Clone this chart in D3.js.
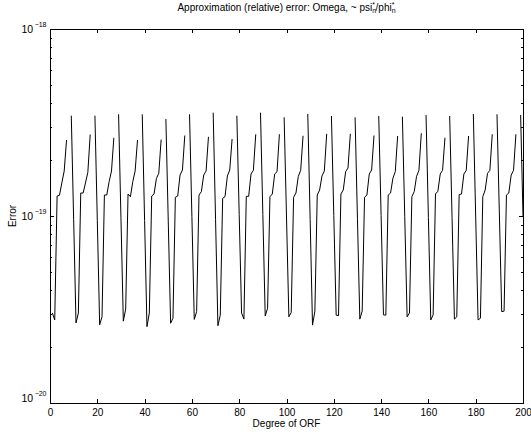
<!DOCTYPE html>
<meta charset="utf-8">
<style>
body { margin: 0; background: white; }
text { font-family: "Liberation Sans", Arial, sans-serif; fill: black; }
.axis line { stroke: black; stroke-width: 1px; shape-rendering: crispEdges; }
.axis path { display: none; }
.frame { fill: none; stroke: black; stroke-width: 1px; shape-rendering: crispEdges; }
.curve { fill: none; stroke: black; stroke-width: 1px; }
</style>
<body>
<script src="https://d3js.org/d3.v7.min.js"></script>
<script>
var width = 531,
    height = 434;

var margin = {top: 29, right: 8, bottom: 31, left: 50};

// error per degree 1..200, in units of 1e-20 (null = zero, skipped on the log axis)
var errUnit = 1e-20;
var degree = d3.range(1, 201);
var error = [
  3.03, 2.78, 12.79, 12.90, 15.02, 17.40, 25.49, null, 34.39, 9.60,
  2.68, 3.03, 13.27, 13.27, 15.02, 17.12, 27.28, null, 34.39, 9.49,
  2.62, 2.89, 12.95, 12.95, 15.26, 17.40, 26.20, null, 34.99, 9.79,
  2.74, 3.18, 13.11, 12.68, 15.26, 17.40, 25.49, null, 34.99, 9.46,
  2.56, 3.03, 12.79, 13.11, 15.90, 16.92, 25.65, null, 33.02, 9.39,
  2.67, 2.84, 12.59, 12.79, 16.57, 17.62, 26.95, null, 34.99, 9.92,
  2.80, 3.08, 12.95, 13.50, 16.57, 17.40, 26.50, null, 35.68, 9.61,
  2.59, 2.95, 12.43, 12.68, 16.37, 17.62, 25.81, null, 34.39, 10.20,
  3.03, 2.81, 12.74, 12.74, 16.77, 17.55, 27.35, null, 35.68, 10.20,
  2.92, 3.21, 12.68, 13.11, 16.77, 17.26, 27.35, null, 33.72, 9.87,
  2.89, 3.05, 12.59, 13.27, 16.30, 17.55, 26.85, null, 35.12, 9.58,
  2.61, 3.10, 12.95, 13.77, 16.37, 17.40, 27.50, null, 34.27, 10.05,
  2.95, 2.93, 13.11, 13.77, 17.26, 18.06, 27.50, null, 33.72, 9.73,
  2.81, 3.10, 12.59, 12.95, 16.77, 17.62, 26.95, null, 34.27, 10.07,
  2.96, 2.95, 12.95, 13.27, 15.94, 17.26, 26.78, null, 33.99, 9.91,
  2.89, 3.03, 12.68, 13.50, 16.30, 17.55, 27.70, null, 34.69, 9.82,
  2.78, 2.96, 13.11, 13.55, 16.77, 17.55, 26.20, null, 34.27, 9.81,
  2.81, 2.89, 13.00, 13.11, 16.77, 17.55, 26.78, null, 35.12, 9.88,
  2.78, 2.84, 12.68, 13.77, 16.92, 17.55, 27.35, null, 34.99, 10.38,
  3.08, 3.10, 12.95, 13.27, 16.57, 17.55, 27.35, null, 34.69, 10.00
];

var xTicks = [0, 20, 40, 60, 80, 100, 120, 140, 160, 180, 200];
var yMajor = [1e-20, 1e-19, 1e-18];
var yExponents = ["\u221220", "\u221219", "\u221218"];
var yMinor = [2e-20, 3e-20, 4e-20, 5e-20, 6e-20, 7e-20, 8e-20, 9e-20,
              2e-19, 3e-19, 4e-19, 5e-19, 6e-19, 7e-19, 8e-19, 9e-19];

var x = d3.scaleLinear()
    .domain([0, 200])
    .range([margin.left, width - margin.right]);

var y = d3.scaleLog()
    .domain([1e-20, 1e-18])
    .range([height - margin.bottom, margin.top]);

var svg = d3.select("body").append("svg")
    .attr("width", width)
    .attr("height", height);

var points = degree.map(function(d, i) {
  return {x: d, v: error[i] == null ? null : error[i] * errUnit};
});

var line = d3.line()
    .defined(function(d) { return d.v != null; })
    .x(function(d) { return x(d.x); })
    .y(function(d) { return y(d.v); });

svg.append("path")
    .datum(points)
    .attr("class", "curve")
    .attr("d", line);

// ticks, all pointing inward
svg.append("g").attr("class", "axis")
    .attr("transform", "translate(0," + (height - margin.bottom) + ")")
    .call(d3.axisBottom(x).tickValues(xTicks).tickSize(-4).tickPadding(5.5))
    .selectAll("text").style("font-size", "10px");

svg.append("g").attr("class", "axis")
    .attr("transform", "translate(0," + margin.top + ")")
    .call(d3.axisTop(x).tickValues(xTicks).tickSize(-4).tickFormat(""));

[[d3.axisLeft, margin.left], [d3.axisRight, width - margin.right]].forEach(function(a) {
  svg.append("g").attr("class", "axis")
      .attr("transform", "translate(" + a[1] + ",0)")
      .call(a[0](y).tickValues(yMajor).tickSize(-4).tickFormat(""));
  svg.append("g").attr("class", "axis")
      .attr("transform", "translate(" + a[1] + ",0)")
      .call(a[0](y).tickValues(yMinor).tickSize(-2).tickFormat(""));
});

svg.append("rect")
    .attr("class", "frame")
    .attr("x", x(0))
    .attr("y", margin.top)
    .attr("width", x(200) - x(0))
    .attr("height", height - margin.top - margin.bottom);

// y tick labels as 10 with superscript exponent
yMajor.forEach(function(v, i) {
  var t = svg.append("text")
      .attr("x", margin.left - 3.5)
      .attr("y", y(v) + (i === 0 ? -1 : 4))
      .attr("text-anchor", "end");
  t.append("tspan").style("font-size", "10.5px").text("10");
  t.append("tspan").style("font-size", "7px").attr("dx", 1.5).attr("dy", -6).text(yExponents[i]);
});

// title with stacked sub/superscripts
var title = svg.append("text")
    .attr("x", (x(0) + x(200)) / 2)
    .attr("y", 10.5)
    .attr("text-anchor", "middle")
    .style("font-size", "10px");
title.append("tspan").text("Approximation (relative) error: Omega, ~ psi");
title.append("tspan").style("font-size", "7px").attr("dy", 2.5).text("n");
title.append("tspan").style("font-size", "7px").attr("dx", -3.9).attr("dy", -6.5).text("*");
title.append("tspan").attr("dx", 0.6).attr("dy", 4).text("/phi");
title.append("tspan").style("font-size", "7px").attr("dy", 2.5).text("n");
title.append("tspan").style("font-size", "7px").attr("dx", -3.9).attr("dy", -6.5).text("*");

svg.append("text")
    .attr("x", (x(0) + x(200)) / 2)
    .attr("y", 427)
    .attr("text-anchor", "middle")
    .style("font-size", "10px")
    .text("Degree of ORF");

svg.append("text")
    .attr("transform", "translate(16," + y(1e-19) + ") rotate(-90)")
    .attr("text-anchor", "middle")
    .style("font-size", "10px")
    .text("Error");
</script>
</body>
</html>
